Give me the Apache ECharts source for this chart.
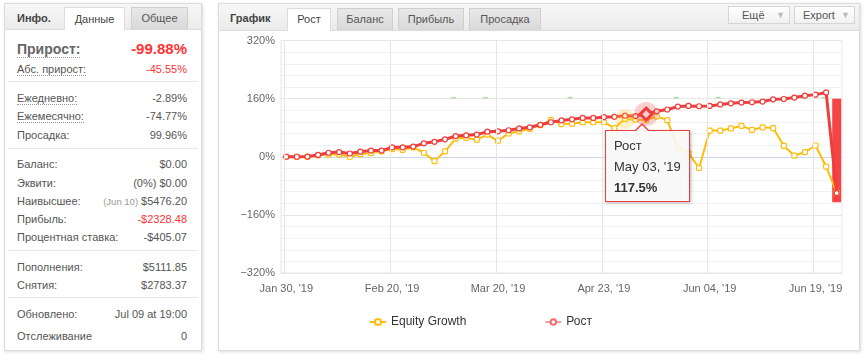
<!DOCTYPE html>
<html>
<head>
<meta charset="utf-8">
<script src="https://cdn.jsdelivr.net/npm/echarts@6/dist/echarts.min.js"></script>
<style>
body { margin: 0; width: 867px; height: 361px; background: #fff; font-family: "Liberation Sans", Arial, sans-serif; position: relative; overflow: hidden; }
.panel { position: absolute; border: 1px solid #dcdcdc; background: #fff; box-shadow: 1px 1px 3px rgba(0,0,0,0.15); }
.head { position: absolute; background: linear-gradient(#f7f7f7, #ebebeb); border-bottom: 1px solid #dcdcdc; }
.tab { position: absolute; font-size: 11px; color: #555; text-align: center; box-sizing: border-box; border: 1px solid #cfcfcf; border-bottom: none; background: linear-gradient(#e8e8e8, #d9d9d9); }
.tab.on { background: #fff; border-color: #dcdcdc; color: #444; }
.ttl { position: absolute; font-size: 11px; font-weight: bold; color: #444; }
.btn { position: absolute; font-size: 11px; color: #555; box-sizing: border-box; border: 1px solid #d5d5d5; background: linear-gradient(#fff, #f1f1f1); height: 18px; line-height: 16px; }
.btn span { position: absolute; right: 4px; color: #bbb; font-size: 9px; }
.row { position: absolute; left: 17px; width: 170px; height: 16px; line-height: 16px; font-size: 11px; color: #555; }
.row .v { position: absolute; right: 0; top: 0; }
.dot { border-bottom: 1px dotted #999; }
.red { color: #f33; }
.sep { position: absolute; left: 8px; width: 190px; height: 1px; background: #e8e8e8; }
#chart { position: absolute; left: 0; top: 0; width: 867px; height: 361px; z-index: 2; }
</style>
</head>
<body>
<!-- left info panel -->
<div class="panel" style="left:4px;top:3px;width:196px;height:346px;"></div>
<div class="head" style="left:5px;top:4px;width:196px;height:25px;"></div>
<div class="ttl" style="left:17px;top:12px;">Инфо.</div>
<div class="tab on" style="left:64px;top:7px;width:61px;height:23px;line-height:22px;">Данные</div>
<div class="tab" style="left:131px;top:7px;width:57px;height:22px;line-height:21px;">Общее</div>

<div class="row" style="top:40px;height:18px;line-height:18px;font-size:14px;font-weight:bold;color:#666;"><span class="dot">Прирост:</span><span class="v red" style="font-size:15px;">-99.88%</span></div>
<div class="row" style="top:61px;"><span class="dot">Абс. прирост:</span><span class="v red">-45.55%</span></div>
<div class="sep" style="top:81px;"></div>
<div class="row" style="top:90px;"><span class="dot">Ежедневно:</span><span class="v">-2.89%</span></div>
<div class="row" style="top:108px;"><span class="dot">Ежемесячно:</span><span class="v">-74.77%</span></div>
<div class="row" style="top:127px;">Просадка:<span class="v">99.96%</span></div>
<div class="sep" style="top:148px;"></div>
<div class="row" style="top:156px;">Баланс:<span class="v">$0.00</span></div>
<div class="row" style="top:175px;">Эквити:<span class="v">(0%) $0.00</span></div>
<div class="row" style="top:193px;">Наивысшее:<span class="v"><span style="font-size:9.5px;color:#999;">(Jun 10)</span> $5476.20</span></div>
<div class="row" style="top:211px;">Прибыль:<span class="v red">-$2328.48</span></div>
<div class="row" style="top:229px;">Процентная ставка:<span class="v">-$405.07</span></div>
<div class="sep" style="top:250px;"></div>
<div class="row" style="top:259px;">Пополнения:<span class="v">$5111.85</span></div>
<div class="row" style="top:277px;">Снятия:<span class="v">$2783.37</span></div>
<div class="sep" style="top:297px;"></div>
<div class="row" style="top:306px;">Обновлено:<span class="v">Jul 09 at 19:00</span></div>
<div class="row" style="top:328px;">Отслеживание<span class="v">0</span></div>

<!-- right chart panel -->
<div class="panel" style="left:218px;top:3px;width:640px;height:346px;"></div>
<div class="head" style="left:219px;top:4px;width:640px;height:26px;"></div>
<div class="ttl" style="left:230px;top:12px;">График</div>
<div class="tab on" style="left:287px;top:8px;width:44px;height:23px;line-height:21px;">Рост</div>
<div class="tab" style="left:337px;top:8px;width:56px;height:22px;line-height:21px;">Баланс</div>
<div class="tab" style="left:398px;top:8px;width:66px;height:22px;line-height:21px;">Прибыль</div>
<div class="tab" style="left:469px;top:8px;width:72px;height:22px;line-height:21px;">Просадка</div>
<div class="btn" style="left:728px;top:6px;width:62px;padding-left:13px;">Ещё<span>&#9660;</span></div>
<div class="btn" style="left:794px;top:6px;width:61px;padding-left:8px;">Export<span>&#9660;</span></div>

<div id="chart"></div>

<script>
var dates = ["Jan 30", "Feb 01", "Feb 04", "Feb 06", "Feb 08", "Feb 11", "Feb 12", "Feb 14", "Feb 15", "Feb 18",
    "Feb 20", "Feb 22", "Feb 25", "Feb 27", "Mar 01", "Mar 04", "Mar 07", "Mar 11", "Mar 14", "Mar 18",
    "Mar 20", "Mar 22", "Mar 26", "Mar 28", "Apr 01", "Apr 04", "Apr 08", "Apr 11", "Apr 15", "Apr 18",
    "Apr 23", "Apr 25", "Apr 29", "May 01", "May 03", "May 08", "May 14", "May 20", "May 24", "May 30",
    "Jun 04", "Jun 05", "Jun 06", "Jun 07", "Jun 10", "Jun 11", "Jun 12", "Jun 13", "Jun 14", "Jun 17",
    "Jun 19", "Jun 20", "Jun 21"];

// Equity Growth, %
var equityGrowth = [0, 0, 0, 4, 6, 6, 0, 7, 10, 15,
    21, 19, 26, 11, -12, 15, 50, 52, 47, 61,
    44, 64, 70, 77, 87, 101, 90, 91, 95, 95,
    95, 79, 104, 102, 101, 111, 101, 23, 10, -31,
    72, 72, 78, 85, 74, 81, 79, 30, 3, 13,
    31, -27, -99];

// Рост, %
var rost = [0, 0, 0.5, 5, 11, 13, 9, 14, 17, 17,
    26, 26, 28, 37, 41, 48, 57, 59, 61, 69,
    70, 73, 78, 81, 88, 95, 100, 103, 107, 107,
    109, 110, 113, 112, 117.5, 125, 130, 138, 140, 139,
    140, 144, 147, 149, 150, 152, 158, 159, 163, 168,
    171, 177, -99.88];

// deposit / withdrawal marks (secondary axis, zero at the 160% line)
var deposits = [null, null, null, null, null, null, null, null, null, null,
    null, null, null, null, null, null, 5, null, null, 5,
    null, null, null, null, null, null, null, 5, null, null,
    null, null, null, null, null, null, null, 5, null, null,
    null, 5, null, null, null, null, null, null, null, 5,
    null, 5, null];
var withdrawals = [null, null, null, null, null, null, null, null, null, null,
    null, null, null, null, null, null, null, null, null, null,
    null, null, null, null, null, null, null, null, null, null,
    null, null, null, null, null, null, null, null, null, null,
    null, null, null, null, null, null, null, null, null, null,
    null, null, -285];

var yTicks = { min: -320, max: 320, step: 160 };
var hoverIndex = 34;
var yellowHalo = 32;

var RED = '#ee3e3e';
var YELLOW = '#fcbd0a';
var FONT = '"Liberation Sans", Arial, sans-serif';

var categories = dates.map(function (d) { return d + ", '19"; });

var rostData = rost.map(function (v, i) {
    if (i == hoverIndex) {
        return { value: v, symbol: 'diamond', symbolSize: 12,
            itemStyle: { color: '#fff', borderColor: RED, borderWidth: 3 } };
    }
    return v;
});

var gridLines = categories.filter(function (c, i) { return i % 10 == 0; })
    .map(function (c) { return { xAxis: c }; });

var chart = echarts.init(document.getElementById('chart'), null, { renderer: 'canvas' });

var option = {
    animation: false,
    textStyle: { fontFamily: FONT },
    grid: { left: 281, right: 25, top: 40.5, bottom: 88, show: true, borderColor: '#e6e6e6', borderWidth: 1 },
    legend: {
        left: 364, top: 311, itemGap: 78, itemWidth: 16, itemHeight: 7,
        textStyle: { color: '#333', fontSize: 12, fontFamily: FONT },
        data: [
            { name: 'Equity Growth' },
            { name: 'Рост', lineStyle: { color: '#f5a0a0' }, itemStyle: { borderColor: '#f07070' } }
        ]
    },
    tooltip: {
        trigger: 'item',
        triggerOn: 'none',
        alwaysShowContent: true,
        transitionDuration: 0,
        backgroundColor: 'rgba(247,247,247,0.9)',
        borderColor: RED,
        borderWidth: 1,
        padding: [4, 8, 3, 8],
        extraCssText: 'box-shadow:1px 1px 3px rgba(0,0,0,0.3);border-radius:0;line-height:21px;',
        textStyle: { color: '#333', fontSize: 13, fontFamily: FONT },
        position: function (point) { return [point[0] - 41, point[1] + 16]; },
        formatter: function (p) {
            return '<div style="position:absolute;left:29px;top:-8px;width:0;height:0;border-left:7px solid transparent;border-right:7px solid transparent;border-bottom:7px solid ' + RED + ';"></div>' +
                '<div style="position:absolute;left:30px;top:-6px;width:0;height:0;border-left:6px solid transparent;border-right:6px solid transparent;border-bottom:6px solid #f7f7f7;"></div>' +
                'Рост<br>' + p.name + '<br><b>' + p.value + '%</b>';
        }
    },
    xAxis: {
        type: 'category',
        data: categories,
        boundaryGap: true,
        axisLine: { lineStyle: { color: '#ccd6eb' } },
        axisTick: { show: false },
        splitLine: { show: false },
        axisLabel: { interval: 9, color: '#666', fontSize: 11, margin: 10, fontFamily: FONT }
    },
    yAxis: [{
        type: 'value',
        min: yTicks.min, max: yTicks.max, interval: yTicks.step,
        axisLine: { show: false },
        axisTick: { show: false },
        axisLabel: {
            color: '#666', fontSize: 11, margin: 6, fontFamily: FONT,
            formatter: function (v) { return (v < 0 ? '\u2212' : '') + Math.abs(v) + '%'; }
        },
        splitLine: { lineStyle: { color: '#e6e6e6' } },
        minorTick: { show: false, splitNumber: 5 },
        minorSplitLine: { show: true, lineStyle: { color: '#f2f2f2' } }
    }, {
        type: 'value',
        show: false,
        min: yTicks.min - yTicks.step, max: yTicks.max - yTicks.step,
        splitLine: { show: false }
    }],
    series: [{
        name: 'deposits',
        type: 'bar',
        yAxisIndex: 1,
        z: 1,
        barWidth: 5,
        barGap: '-100%',
        itemStyle: { color: '#b9dcb2' },
        data: deposits,
        markLine: {
            silent: true,
            symbol: 'none',
            label: { show: false },
            lineStyle: { color: '#e6e6e6', type: 'solid', width: 1 },
            data: gridLines
        }
    }, {
        name: 'withdrawals',
        type: 'bar',
        yAxisIndex: 1,
        z: 1,
        barWidth: 9,
        barGap: '-100%',
        itemStyle: { color: '#f44444' },
        data: withdrawals
    }, {
        name: 'Equity Growth',
        type: 'line',
        z: 3,
        data: equityGrowth,
        symbol: 'roundRect',
        symbolSize: 5,
        lineStyle: { color: YELLOW, width: 2 },
        itemStyle: { color: '#fff', borderColor: YELLOW, borderWidth: 1.2 },
        markPoint: {
            silent: true,
            symbol: 'circle',
            symbolSize: 20,
            label: { show: false },
            itemStyle: { color: 'rgba(252,200,40,0.25)' },
            data: [{ coord: [categories[yellowHalo], equityGrowth[yellowHalo]] }]
        }
    }, {
        name: 'Рост',
        type: 'line',
        z: 4,
        data: rostData,
        symbol: 'circle',
        symbolSize: 5,
        lineStyle: { color: RED, width: 3 },
        itemStyle: { color: '#fff', borderColor: RED, borderWidth: 1.2 },
        markPoint: {
            silent: true,
            symbol: 'circle',
            symbolSize: 24,
            label: { show: false },
            itemStyle: { color: 'rgba(238,62,62,0.25)' },
            data: [{ coord: [categories[hoverIndex], rost[hoverIndex]] }]
        }
    }]
};

chart.setOption(option);
chart.dispatchAction({ type: 'showTip', seriesIndex: 3, dataIndex: hoverIndex });
</script>
</body>
</html>
